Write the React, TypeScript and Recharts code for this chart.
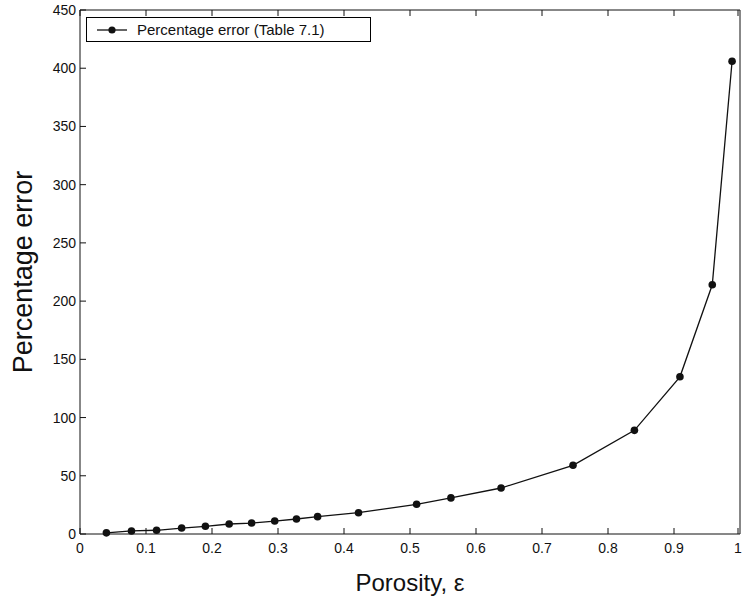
import { LineChart, Line, XAxis, YAxis } from 'recharts';

const porosity = [
  0.04, 0.078, 0.116, 0.154, 0.19, 0.226, 0.26, 0.295, 0.328, 0.36, 0.422, 0.51, 0.562, 0.638,
  0.747, 0.84, 0.909, 0.958, 0.988,
];
const percentError = [
  1, 2.6, 3.2, 5.1, 6.6, 8.6, 9.4, 11.1, 12.9, 14.9, 18.3, 25.5, 31, 39.5, 59, 89, 135, 214, 406,
];
const xTicks = [0, 0.1, 0.2, 0.3, 0.4, 0.5, 0.6, 0.7, 0.8, 0.9, 1];
const yTicks = [0, 50, 100, 150, 200, 250, 300, 350, 400, 450];

const data = porosity.map((x, i) => ({ x, y: percentError[i] }));

const FONT = '"Liberation Sans", Arial, Helvetica, sans-serif';
const INK = '#111';
const TICK = 6;

// matlab-style ticks: short marks pointing into the plot
function BottomTick(props: any) {
  const { x, y, payload } = props;
  return (
    <g>
      <line x1={x} y1={y} x2={x} y2={y - TICK} stroke={INK} />
      <text x={x} y={y + 9} dy="0.71em" textAnchor="middle" fill={INK} fontSize={14} fontFamily={FONT}>
        {payload.value}
      </text>
    </g>
  );
}

function TopTick(props: any) {
  const { x, y } = props;
  return <line x1={x} y1={y} x2={x} y2={y + TICK} stroke={INK} />;
}

function LeftTick(props: any) {
  const { x, y, payload } = props;
  return (
    <g>
      <line x1={x} y1={y} x2={x + TICK} y2={y} stroke={INK} />
      <text x={x - 4} y={y} dy="0.355em" textAnchor="end" fill={INK} fontSize={14} fontFamily={FONT}>
        {payload.value}
      </text>
    </g>
  );
}

function RightTick(props: any) {
  const { x, y } = props;
  return <line x1={x} y1={y} x2={x - TICK} y2={y} stroke={INK} />;
}

function LegendBox() {
  return (
    <div
      style={{
        position: 'absolute',
        left: 86,
        top: 17,
        width: 283,
        height: 23,
        border: '1px solid #000',
        background: '#fff',
        display: 'flex',
        alignItems: 'center',
        fontFamily: FONT,
        fontSize: 15,
        color: INK,
      }}
    >
      <svg width={50} height={23}>
        <line x1={10} y1={12} x2={40} y2={12} stroke={INK} strokeWidth={1.3} />
        <circle cx={25} cy={12} r={3.6} fill={INK} />
      </svg>
      <span>Percentage error (Table 7.1)</span>
    </div>
  );
}

export default function App() {
  return (
    <div style={{ position: 'absolute', left: 0, top: 0, background: '#fff', fontFamily: FONT }}>
      <LineChart
        width={742}
        height={597}
        data={data}
        margin={{ top: 9, right: 1, left: 0, bottom: 0 }}
      >
        <XAxis
          xAxisId="bottom"
          dataKey="x"
          type="number"
          domain={[0, 1]}
          ticks={xTicks}
          height={63}
          stroke={INK}
          tickLine={false}
          tickSize={0}
          tickMargin={0}
          tick={<BottomTick />}
          label={{
            value: 'Porosity, ε',
            position: 'insideBottom',
            offset: 6,
            fill: INK,
            fontSize: 24,
            fontFamily: FONT,
          }}
        />
        <XAxis
          xAxisId="top"
          dataKey="x"
          type="number"
          orientation="top"
          domain={[0, 1]}
          ticks={xTicks}
          height={1}
          stroke={INK}
          tickLine={false}
          tickSize={0}
          tickMargin={0}
          tick={<TopTick />}
        />
        <YAxis
          yAxisId="left"
          type="number"
          domain={[0, 450]}
          ticks={yTicks}
          width={80}
          stroke={INK}
          tickLine={false}
          tickSize={0}
          tickMargin={0}
          tick={<LeftTick />}
          label={{
            value: 'Percentage error',
            angle: -90,
            position: 'insideLeft',
            offset: 22,
            style: { textAnchor: 'middle' },
            fill: INK,
            fontSize: 27,
            fontFamily: FONT,
          }}
        />
        <YAxis
          yAxisId="right"
          type="number"
          orientation="right"
          domain={[0, 450]}
          ticks={yTicks}
          width={1}
          stroke={INK}
          tickLine={false}
          tickSize={0}
          tickMargin={0}
          tick={<RightTick />}
        />
        <Line
          xAxisId="bottom"
          yAxisId="left"
          dataKey="y"
          type="linear"
          stroke={INK}
          strokeWidth={1.3}
          dot={{ r: 3.8, fill: INK, stroke: INK, strokeWidth: 0 }}
          isAnimationActive={false}
        />
      </LineChart>
      <LegendBox />
    </div>
  );
}
